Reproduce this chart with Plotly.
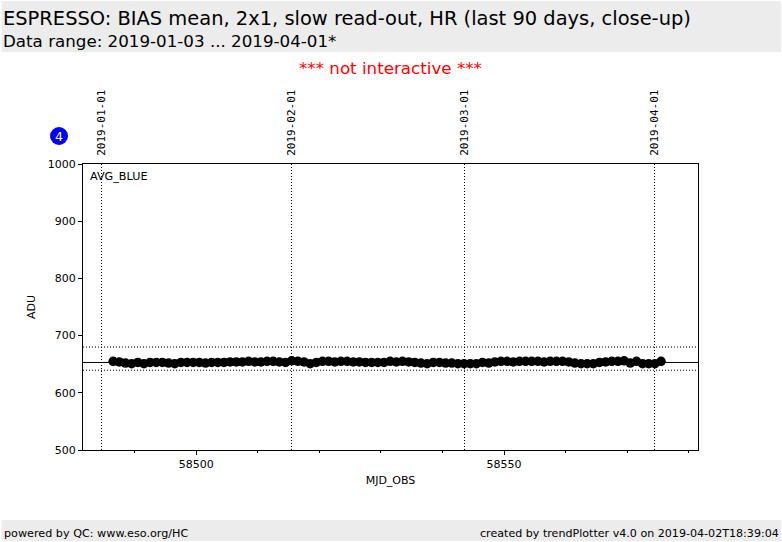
import plotly.graph_objects as go

FONT = "DejaVu Sans"

mjd = [58486.5 + i for i in range(90)]
avg_blue = [
    655, 654, 652, 651, 653, 651, 653, 653, 653, 652,
    651, 653, 653, 653, 653, 652, 653, 653, 653, 654,
    654, 654, 655, 654, 654, 655, 655, 654, 653, 656,
    655, 654, 651, 653, 655, 655, 654, 655, 655, 654,
    654, 653, 653, 653, 653, 655, 654, 655, 654, 653,
    652, 651, 653, 653, 652, 652, 651, 651, 651, 651,
    653, 652, 654, 655, 655, 654, 655, 655, 655, 655,
    654, 655, 655, 655, 654, 652, 651, 651, 651, 653,
    654, 655, 655, 656, 652, 655, 651, 651, 651, 655,
]

mean_level = 653
limits = [639.5, 680]

date_ticks = [58484.6, 58515.4, 58543.5, 58574.5]
date_labels = ["2019-01-01", "2019-02-01", "2019-03-01", "2019-04-01"]

fig = go.Figure()

fig.add_trace(go.Scatter(
    x=mjd, y=avg_blue, mode="markers",
    marker=dict(color="black", size=9.5), showlegend=False, xaxis="x", yaxis="y",
))
# empty trace so the top date axis gets drawn
fig.add_trace(go.Scatter(
    x=date_ticks, y=[None] * 4, mode="markers", showlegend=False, xaxis="x2", yaxis="y",
))

fig.add_hline(y=mean_level, line=dict(color="black", width=1), layer="below")
for lim in limits:
    fig.add_hline(y=lim, line=dict(color="black", width=1, dash="1px,2px"), layer="below")

# header and footer bands
fig.add_shape(type="rect", xref="paper", yref="paper", x0=-81.5 / 615.5, x1=698.5 / 615.5,
              y0=(450 - 52) / 286, y1=(450 - 1) / 286, fillcolor="#ececec", line_width=0, layer="below")
fig.add_shape(type="rect", xref="paper", yref="paper", x0=-81.5 / 615.5, x1=698.5 / 615.5,
              y0=(450 - 541) / 286, y1=(450 - 520) / 286, fillcolor="#ececec", line_width=0, layer="below")
# blue badge
fig.add_shape(type="circle", xref="paper", yref="paper",
              x0=(49.5 - 82.5) / 615.5, x1=(67.5 - 82.5) / 615.5,
              y0=(450 - 145) / 286, y1=(450 - 127) / 286, fillcolor="#0000ff", line_width=0)


def txt(x, y, text, size, color="black", xanchor="left"):
    fig.add_annotation(
        xref="paper", yref="paper", x=(x - 82.5) / 615.5, y=(450 - y) / 286,
        text=text, showarrow=False, xanchor=xanchor, yanchor="middle",
        font=dict(family=FONT, size=size, color=color),
        borderpad=0, borderwidth=0,
    )


txt(2, 18, "ESPRESSO: BIAS mean, 2x1, slow read-out, HR (last 90 days, close-up)", 19.45)
txt(2, 41, "Data range: 2019-01-03 ... 2019-04-01*", 16.7)
txt(390, 68, "*** not interactive ***", 16.7, color="#ff0000", xanchor="center")
txt(58.5, 136.5, "4", 12.5, color="#ffffd0", xanchor="center")
txt(90, 176.5, "AVG_BLUE", 11.2)
txt(3, 533, "powered by QC: www.eso.org/HC", 11.2)
txt(779, 533, "created by trendPlotter v4.0 on 2019-04-02T18:39:04", 11.1, xanchor="right")

fig.update_layout(
    width=782, height=542, autosize=False,
    margin=dict(l=82.5, r=83.5, t=164, b=92),
    paper_bgcolor="white", plot_bgcolor="white",
    font=dict(family=FONT, size=11, color="black"),
    xaxis=dict(
        range=[58481.6, 58581.5], tickmode="array", tickvals=[58500, 58550],
        ticktext=["58500", "58550"], ticks="outside", ticklen=4, tickwidth=1, tickcolor="black",
        minor=dict(tickmode="array", tickvals=[58490, 58510, 58520, 58530, 58540, 58560, 58570, 58580],
                   ticks="outside", ticklen=2, tickwidth=1, tickcolor="black", showgrid=False),
        showgrid=False, zeroline=False, showline=True, linecolor="black", linewidth=1, mirror=True,
        title=dict(text="MJD_OBS", font=dict(family=FONT, size=11), standoff=6),
    ),
    xaxis2=dict(
        overlaying="x", side="top", range=[58481.6, 58581.5], tickmode="array",
        tickvals=date_ticks, ticktext=date_labels, tickangle=-90,
        ticks="outside", ticklen=5, tickcolor="rgba(0,0,0,0)",
        showgrid=True, gridcolor="black", griddash="1px,2px", gridwidth=1,
        zeroline=False, showline=False, tickfont=dict(family="DejaVu Sans Mono", size=11),
    ),
    yaxis=dict(
        range=[500, 1000], tickmode="array", tickvals=[500, 600, 700, 800, 900, 1000],
        ticks="outside", ticklen=4, tickwidth=1, tickcolor="black",
        showgrid=False, zeroline=False, showline=True, linecolor="black", linewidth=1, mirror=True,
        title=dict(text="ADU", font=dict(family=FONT, size=11), standoff=9),
    ),
)

fig.write_html("out.html", post_script="document.body.style.margin='0';",
               config={"displayModeBar": False})
